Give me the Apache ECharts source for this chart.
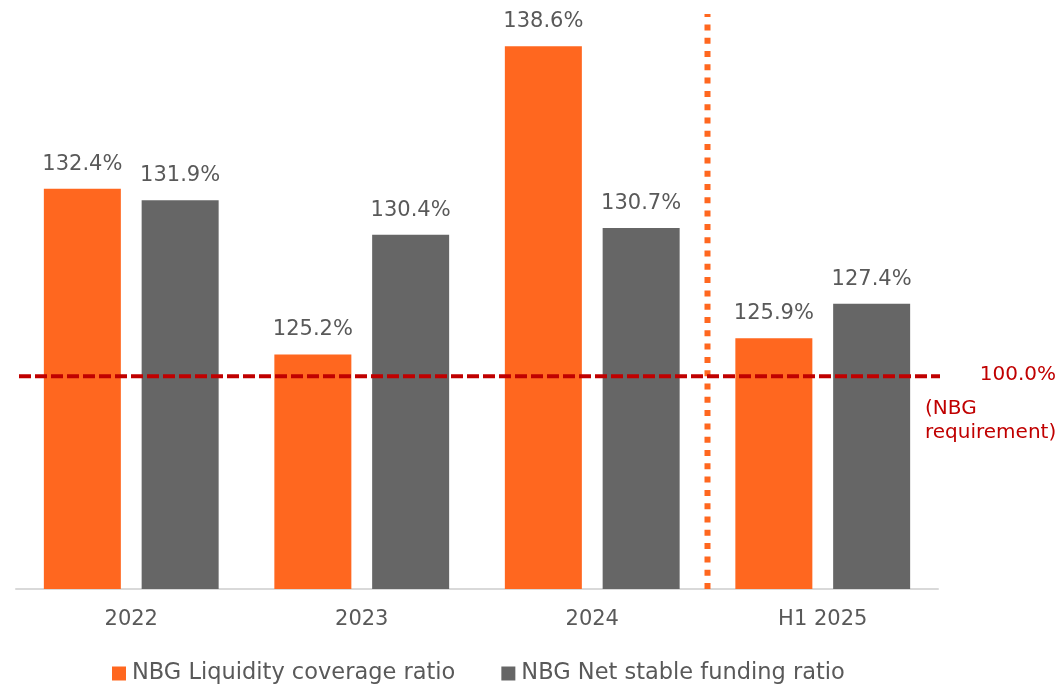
<!DOCTYPE html>
<html><head><meta charset="utf-8">
<script src="https://cdn.jsdelivr.net/npm/echarts@6/dist/echarts.min.js"></script>
<style>html,body{margin:0;padding:0;background:#fff}#c{width:1059px;height:685px}</style>
</head><body><div id="c"></div>
<script>
const categories = ['2022', '2023', '2024', 'H1 2025'];
const lcr = [132.4, 125.2, 138.6, 125.9];
const nsfr = [131.9, 130.4, 130.7, 127.4];
const seriesNames = ['NBG Liquidity coverage ratio', 'NBG Net stable funding ratio'];
const requirementLevel = 124.25;  // position of the 100% requirement reference line on the chart's scale
const requirementText = ['100.0%', '(NBG', 'requirement)'];
const dividerPosition = 3;        // boundary between 2024 and H1 2025 (in category units)

const FONT = 'DejaVu Sans';
const TXT = '#595959';
const ORANGE = '#FF671F';
const GRAY = '#666666';
const RED = '#C00000';

const chart = echarts.init(document.getElementById('c'));
const lbl = {
  show: true, position: 'top', distance: 14,
  color: TXT, fontFamily: FONT, fontSize: 21,
  formatter: p => p.value.toFixed(1) + '%'
};
chart.setOption({
  animation: false,
  textStyle: { fontFamily: FONT },
  grid: { left: 16, right: 121, top: 14, bottom: 96 },
  xAxis: [{
    type: 'category', data: categories,
    axisLine: { lineStyle: { color: '#D9D9D9', width: 2 } },
    axisTick: { show: false },
    axisLabel: { color: TXT, fontSize: 21, fontFamily: FONT, margin: 20 }
  }, {
    type: 'value', min: 0, max: categories.length, show: false
  }],
  yAxis: { type: 'value', min: 115, max: 140, show: false, splitLine: { show: false } },
  legend: {
    left: 107, top: 657, itemWidth: 14, itemHeight: 14, itemGap: 46,
    icon: 'rect',
    textStyle: { color: TXT, fontSize: 22.5, fontFamily: FONT, padding: [0, 0, 0, 1] },
    data: seriesNames
  },
  series: [{
    name: seriesNames[0], type: 'bar', data: lcr,
    itemStyle: { color: ORANGE }, barWidth: 77, barGap: '27%', label: lbl
  }, {
    name: seriesNames[1], type: 'bar', data: nsfr,
    itemStyle: { color: GRAY }, barWidth: 77, barGap: '27%', label: lbl
  }, {
    type: 'line', xAxisIndex: 1, yAxisIndex: 0, symbol: 'none', silent: true,
    data: [[dividerPosition, 115], [dividerPosition, 140]],
    lineStyle: { color: ORANGE, width: 6, type: [6, 7.3], cap: 'butt' }
  }, {
    type: 'line', xAxisIndex: 1, yAxisIndex: 0, symbol: 'none', silent: true, clip: false,
    data: [[0.013, requirementLevel], [4.043, requirementLevel]],
    lineStyle: { color: RED, width: 4, type: [12, 4], cap: 'butt' }
  }]
});

const yPix = chart.convertToPixel({ yAxisIndex: 0 }, requirementLevel);
chart.setOption({
  graphic: [
    { type: 'text', right: 3, top: yPix - 11, style: { text: requirementText[0], fill: RED, font: '20px ' + FONT } },
    { type: 'text', left: 925, top: yPix + 23, style: { text: requirementText[1], fill: RED, font: '20px ' + FONT } },
    { type: 'text', left: 925, top: yPix + 47, style: { text: requirementText[2], fill: RED, font: '20px ' + FONT } }
  ]
});
</script></body></html>
